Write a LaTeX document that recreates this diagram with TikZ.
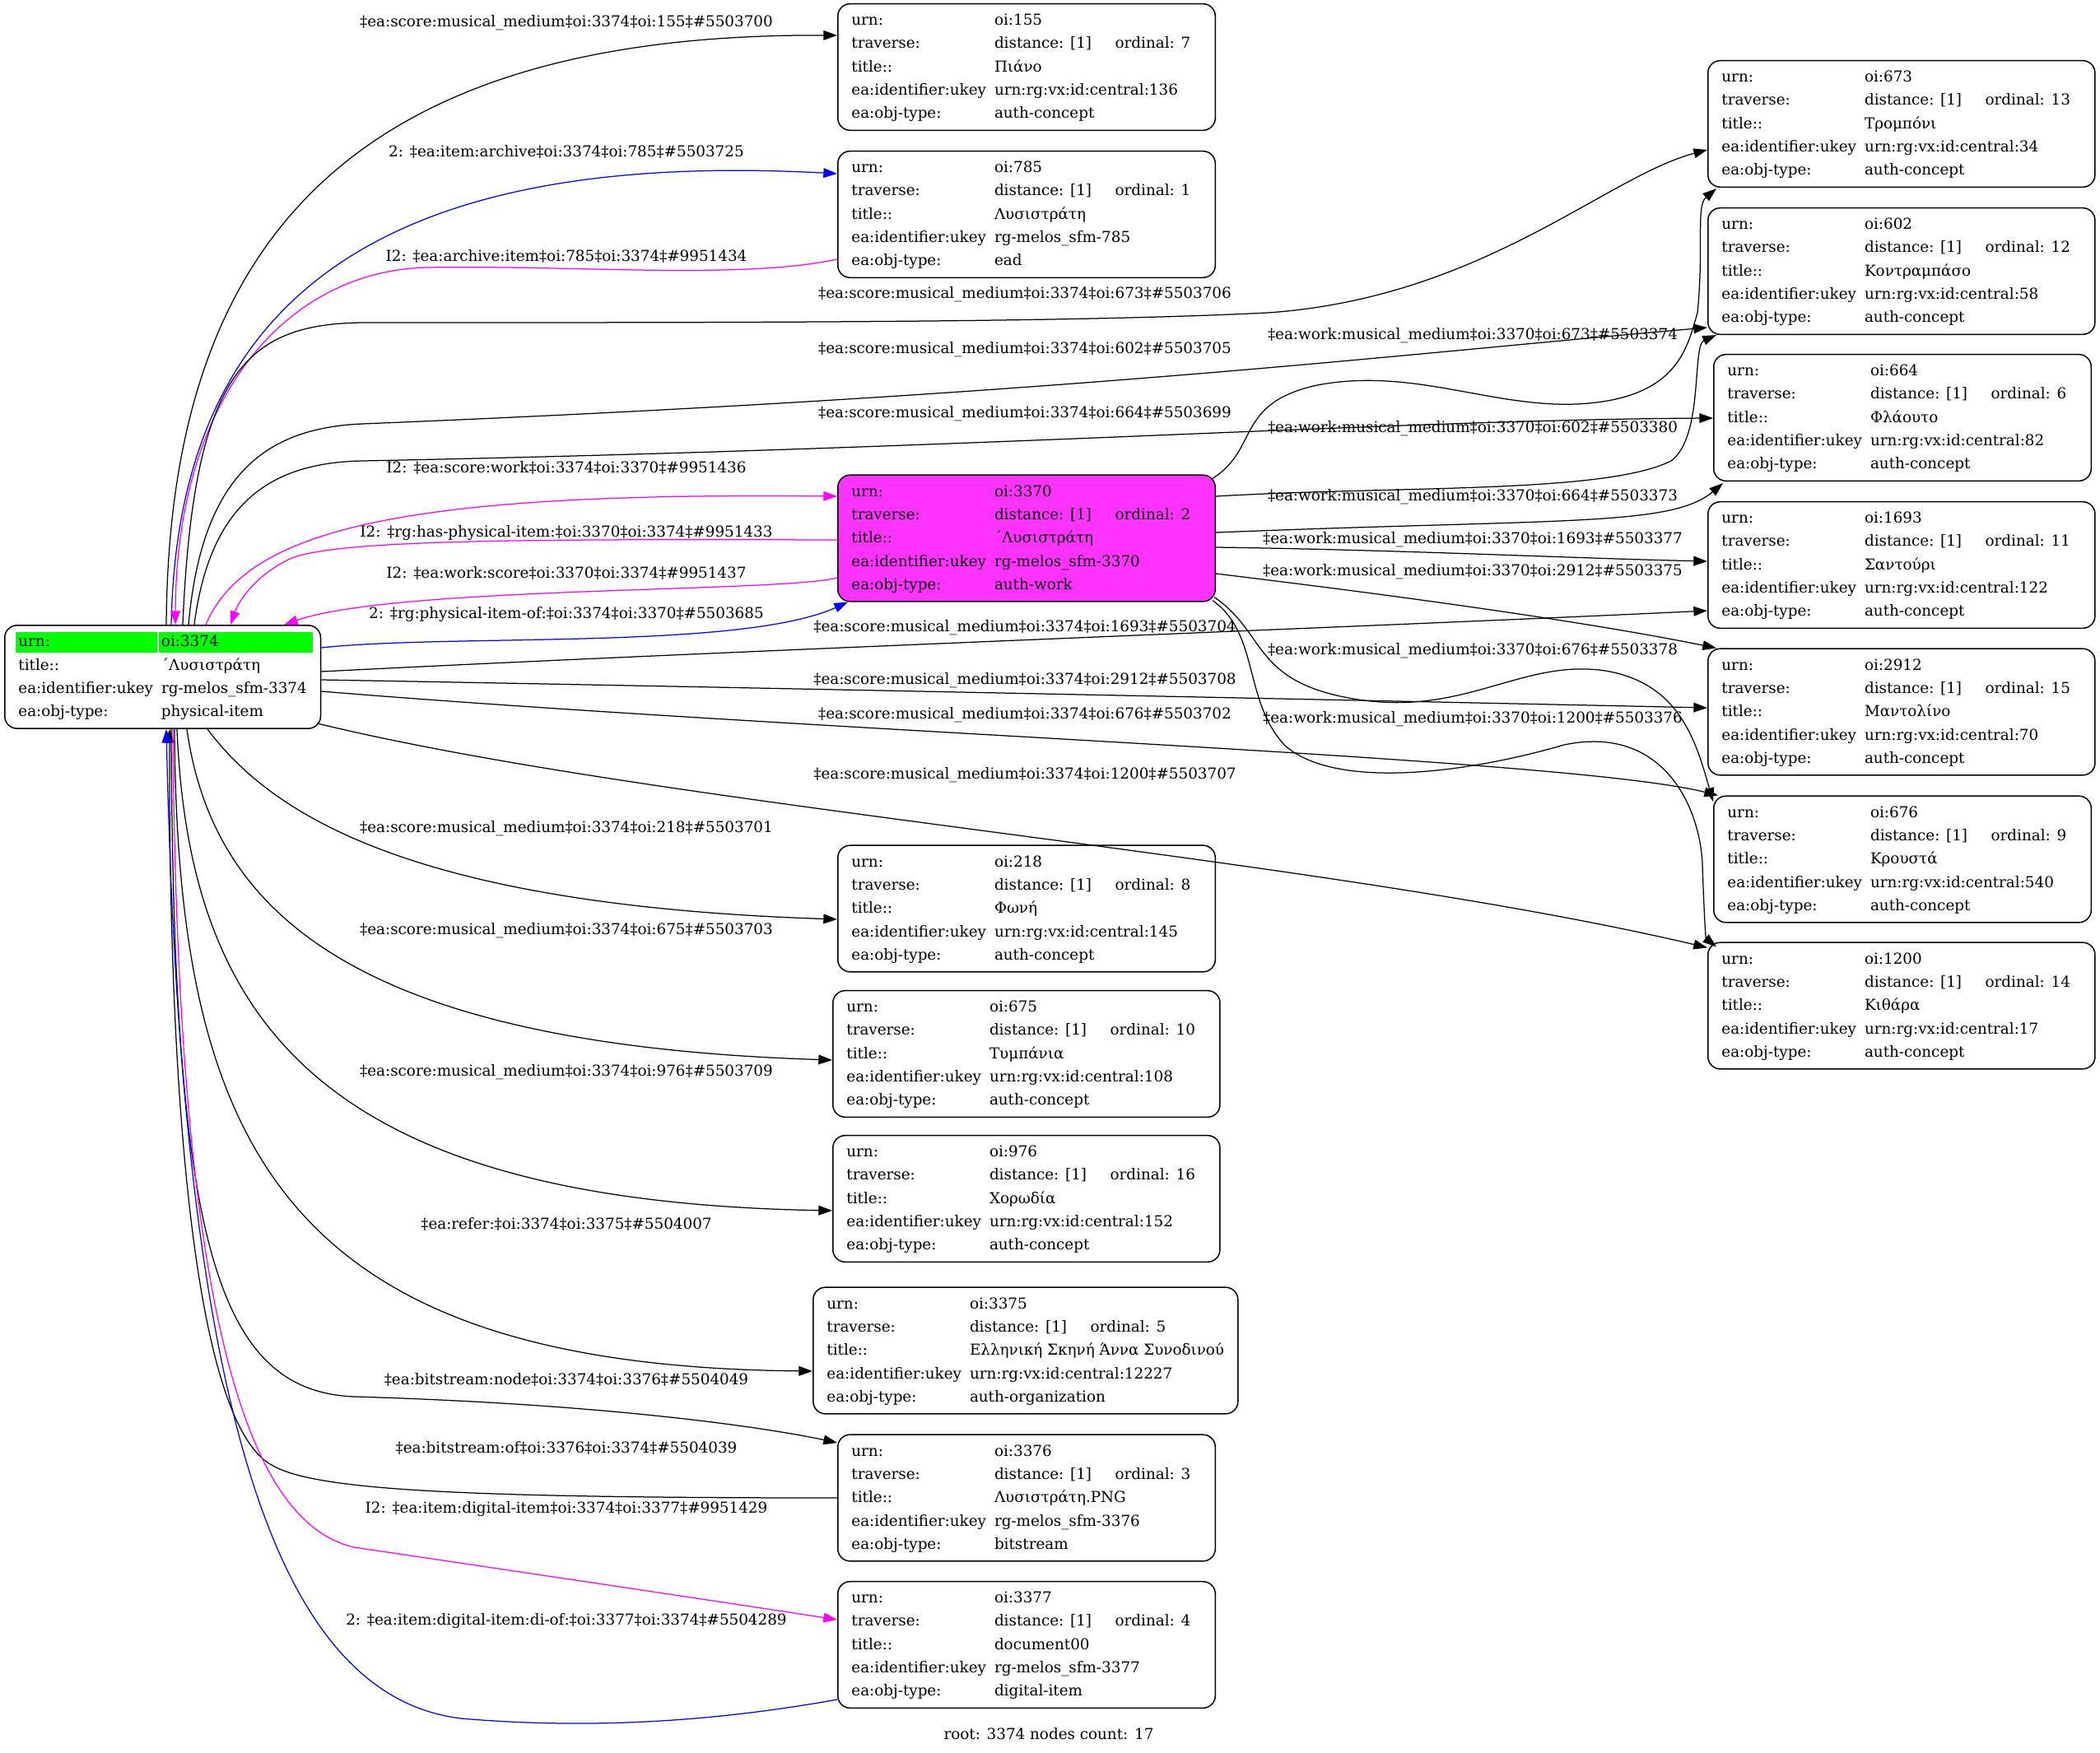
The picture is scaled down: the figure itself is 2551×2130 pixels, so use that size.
\documentclass[tikz,border=0pt]{standalone}
\usepackage{fontspec}
\setmainfont{DejaVu Serif}
\usepackage{xcolor}
\definecolor{linkblue}{RGB}{0, 0, 255}
\definecolor{linkmagenta}{RGB}{255, 0, 255}
\definecolor{rootgreen}{RGB}{0, 255, 0}
\definecolor{workpink}{RGB}{255, 51, 255}
\usepackage{tikz}
\usetikzlibrary{
    arrows.meta,
    calc
}
\tikzstyle{record} = [
    rectangle, draw,
    rounded corners=9pt,
    anchor=west,
    inner xsep=10pt,
    inner ysep=3.6pt,
    line width=0.9pt,
    fill=white
]
\tikzstyle{arrow} = [
    line width=0.75pt,
    -{Triangle[length=10pt,width=7pt]}
]
\newcommand{\rec}[5]{%
    \begin{tabular}{@{}l@{\hspace{6pt}}l@{}}
    urn: & #1\\
    traverse: & \makebox[88pt][l]{distance: [1]}ordinal: #2\kern8pt\\
    title:: & #3\\
    ea:identifier:ukey & #4\\
    ea:obj-type: & #5
    \end{tabular}}
\newcommand{\hlcell}[2]{%
    \rlap{\hspace*{-1.8pt}\setlength{\fboxsep}{0pt}%
    \colorbox{rootgreen}{\rule[-4.2pt]{0pt}{15pt}\makebox[#1][l]{\hspace*{1.8pt}#2}}}%
    \phantom{#2}}

\begin{document}
\begin{tikzpicture}[
    x=0.6pt, y=-0.6pt,
    font=\fontsize{11}{17}\selectfont
]
\fill[white] (0,0) rectangle (2551,2130);

% root and first column
\node (root) [record] at (5,822.5) {%
    \begin{tabular}{@{}l@{\hspace{6pt}}l@{}}
    \hlcell{103pt}{urn:} & \hlcell{112pt}{oi:3374}\\
    title:: & ΄Λυσιστράτη\\
    ea:identifier:ukey & rg-melos\_sfm-3374\\
    ea:obj-type: & physical-item
    \end{tabular}};
\node (n155) [record] at (1017,81.5)
    {\rec{oi:155}{7}{Πιάνο}{urn:rg:vx:id:central:136}{auth-concept}};
\node (n785) [record] at (1017,260.5)
    {\rec{oi:785}{1}{Λυσιστράτη}{rg-melos\_sfm-785}{ead}};
\node (n3370) [record, fill=workpink] at (1017,654)
    {\rec{oi:3370}{2}{΄Λυσιστράτη}{rg-melos\_sfm-3370}{auth-work}};
\node (n218) [record] at (1017,1104)
    {\rec{oi:218}{8}{Φωνή}{urn:rg:vx:id:central:145}{auth-concept}};
\node (n675) [record] at (1011,1280.5)
    {\rec{oi:675}{10}{Τυμπάνια}{urn:rg:vx:id:central:108}{auth-concept}};
\node (n976) [record] at (1011,1456.5)
    {\rec{oi:976}{16}{Χορωδία}{urn:rg:vx:id:central:152}{auth-concept}};
\node (n3375) [record] at (987,1641)
    {\rec{oi:3375}{5}{Ελληνική Σκηνή Άννα Συνοδινού}{urn:rg:vx:id:central:12227}{auth-organization}};
\node (n3376) [record] at (1017,1820)
    {\rec{oi:3376}{3}{Λυσιστράτη.PNG}{rg-melos\_sfm-3376}{bitstream}};
\node (n3377) [record] at (1017,1998.5)
    {\rec{oi:3377}{4}{document00}{rg-melos\_sfm-3377}{digital-item}};

% second column
\node (n673) [record] at (2074,150.5)
    {\rec{oi:673}{13}{Τρομπόνι}{urn:rg:vx:id:central:34}{auth-concept}};
\node (n602) [record] at (2074,329.5)
    {\rec{oi:602}{12}{Κοντραμπάσο}{urn:rg:vx:id:central:58}{auth-concept}};
\node (n664) [record] at (2081,507.5)
    {\rec{oi:664}{6}{Φλάουτο}{urn:rg:vx:id:central:82}{auth-concept}};
\node (n1693) [record] at (2074,686.5)
    {\rec{oi:1693}{11}{Σαντούρι}{urn:rg:vx:id:central:122}{auth-concept}};
\node (n2912) [record] at (2074,865)
    {\rec{oi:2912}{15}{Μαντολίνο}{urn:rg:vx:id:central:70}{auth-concept}};
\node (n676) [record] at (2081,1044)
    {\rec{oi:676}{9}{Κρουστά}{urn:rg:vx:id:central:540}{auth-concept}};
\node (n1200) [record] at (2074,1222)
    {\rec{oi:1200}{14}{Κιθάρα}{urn:rg:vx:id:central:17}{auth-concept}};

% edges out of the top of root
\draw [arrow] ($(root.north west)+(197,0)$) .. controls (205,300) and (420,40) .. ($(n155.west)+(0,-38.5)$);
\draw [arrow, linkblue] ($(root.north west)+(203,0)$) .. controls (215,380) and (440,180) .. ($(n785.west)+(0,-49.5)$);
\draw [arrow, linkmagenta] ($(n785.west)+(0,54.5)$) .. controls (900,340) and (700,322) .. (520,325)
    .. controls (350,328) and (214,480) .. ($(root.north west)+(208,0)$);
\draw [arrow] ($(root.north west)+(217,0)$) .. controls (235,450) and (300,394) .. (440,392)
    .. controls (900,392) and (1300,392) .. (1540,380)
    .. controls (1800,362) and (1950,215) .. ($(n673.west)+(0,31.5)$);
\draw [arrow] ($(root.north west)+(224,0)$) .. controls (245,580) and (320,520) .. (440,515)
    .. controls (1300,480) and (1700,430) .. ($(n602.west)+(0,68.5)$);
\draw [arrow] ($(root.north west)+(231,0)$) .. controls (255,610) and (330,562) .. (440,560)
    .. controls (1200,545) and (1700,510) .. ($(n664.west)+(0,0.5)$);
\draw [arrow, linkmagenta] ($(root.north west)+(245,0)$) .. controls (300,640) and (500,598) .. ($(n3370.west)+(0,-51)$);
\draw [arrow, linkmagenta] ($(n3370.west)+(0,2)$) .. controls (650,655) and (400,655) .. (350,680)
    .. controls (310,700) and (290,730) .. ($(root.north west)+(275,0)$);
\draw [arrow, linkmagenta] ($(n3370.west)+(0,48)$) .. controls (950,720) and (480,712) .. ($(root.north west)+(340,0)$);

% edges out of the right side of root
\draw [arrow, linkblue] ($(root.east)+(0,-35.5)$) .. controls (550,770) and (900,790) .. ($(n3370.south west)+(13,0)$);
\draw [arrow] ($(root.east)+(0,-6.5)$) .. controls (900,790) and (1700,760) .. ($(n1693.west)+(0,55.5)$);
\draw [arrow] ($(root.east)+(0,3.5)$) .. controls (900,835) and (1700,852) .. ($(n2912.west)+(0,-5)$);
\draw [arrow] ($(root.east)+(0,17.5)$) .. controls (1000,890) and (1900,920) .. ($(n676.north west)+(6,0)$);
\draw [arrow] ($(root.south east)+(-5,-7)$) .. controls (800,980) and (1600,1040) .. ($(n1200.north west)+(0,7)$);

% edges out of the bottom of root
\draw [arrow] ($(root.south west)+(247,0)$) .. controls (330,990) and (500,1100) .. ($(n218.west)+(0,13)$);
\draw [arrow] ($(root.south west)+(222,0)$) .. controls (260,1120) and (450,1270) .. ($(n675.west)+(0,7.5)$);
\draw [arrow] ($(root.south west)+(210,0)$) .. controls (230,1250) and (400,1460) .. ($(n976.west)+(0,14.5)$);
\draw [arrow] ($(root.south west)+(207,0)$) .. controls (215,1400) and (350,1660) .. ($(n3375.west)+(0,25)$);
\draw [arrow] ($(root.south west)+(203,0)$) .. controls (210,1500) and (260,1690) .. (430,1697)
    .. controls (800,1708) and (980,1745) .. ($(n3376.west)+(0,-67)$);
\draw [arrow] (n3376.west) .. controls (550,1820) and (380,1810) .. (330,1780)
    .. controls (220,1720) and (205,1200) .. ($(root.south west)+(201,0)$);
\draw [arrow, linkmagenta] ($(root.south west)+(205,0)$) .. controls (215,1600) and (300,1850) .. (430,1880)
    .. controls (700,1920) and (900,1950) .. ($(n3377.west)+(0,-30.5)$);
\draw [arrow, linkblue] ($(n3377.west)+(0,66.5)$) .. controls (850,2095) and (700,2100) .. (560,2088)
    .. controls (330,2060) and (220,1700) .. ($(root.south west)+(197,0)$);

% edges out of 3370
\draw [arrow] ($(n3370.north east)+(-4,5)$) .. controls (1530,545) and (1500,490) .. (1600,468)
    .. controls (1720,445) and (1820,500) .. (1930,490)
    .. controls (2040,480) and (2050,420) .. (2062,380)
    .. controls (2070,300) and (2060,250) .. ($(n673.south west)+(11,1)$);
\draw [arrow] ($(n3370.east)+(0,-51)$) .. controls (1700,590) and (1950,600) .. (2030,560)
    .. controls (2070,530) and (2055,420) .. ($(n602.south west)+(11,0)$);
\draw [arrow] ($(n3370.east)+(0,-7)$) .. controls (1900,630) and (2030,640) .. ($(n664.south west)+(12,2)$);
\draw [arrow] ($(n3370.east)+(0,11)$) .. controls (1700,668) and (1900,678) .. ($(n1693.west)+(0,-4.5)$);
\draw [arrow] ($(n3370.east)+(0,43)$) .. controls (1750,730) and (1950,760) .. ($(n2912.north west)+(11,0)$);
\draw [arrow] ($(n3370.south east)+(-2,-6)$) .. controls (1540,770) and (1520,830) .. (1650,850)
    .. controls (1780,870) and (1850,800) .. (1950,815)
    .. controls (2040,830) and (2060,900) .. ($(n676.west)+(0,-70)$);
\draw [arrow] ($(n3370.south east)+(-4,-2)$) .. controls (1530,770) and (1510,850) .. (1560,905)
    .. controls (1620,960) and (1780,940) .. (1900,905)
    .. controls (2020,880) and (2065,980) .. (2068,1050)
    .. controls (2070,1110) and (2072,1140) .. ($(n1200.north west)+(11,6)$);

% edge labels
\node (la) at (688,28) {‡ea:score:musical\_medium‡oi:3374‡oi:155‡\#5503700};
\node (lb) at (688,184) {2: ‡ea:item:archive‡oi:3374‡oi:785‡\#5503725};
\node (lc) at (688,311) {I2: ‡ea:archive:item‡oi:785‡oi:3374‡\#9951434};
\node (ld) at (1245,358) {‡ea:score:musical\_medium‡oi:3374‡oi:673‡\#5503706};
\node (le) at (1245,425) {‡ea:score:musical\_medium‡oi:3374‡oi:602‡\#5503705};
\node (lf) at (1245,503) {‡ea:score:musical\_medium‡oi:3374‡oi:664‡\#5503699};
\node (lg) at (688,568) {I2: ‡ea:score:work‡oi:3374‡oi:3370‡\#9951436};
\node (lh) at (688,648) {I2: ‡rg:has-physical-item:‡oi:3370‡oi:3374‡\#9951433};
\node (li) at (688,696) {I2: ‡ea:work:score‡oi:3370‡oi:3374‡\#9951437};
\node (lj) at (688,747) {2: ‡rg:physical-item-of:‡oi:3374‡oi:3370‡\#5503685};
\node (lk) at (1245,763) {‡ea:score:musical\_medium‡oi:3374‡oi:1693‡\#5503704};
\node (ll) at (1245,827) {‡ea:score:musical\_medium‡oi:3374‡oi:2912‡\#5503708};
\node (lm) at (1245,869) {‡ea:score:musical\_medium‡oi:3374‡oi:676‡\#5503702};
\node (ln) at (1245,942) {‡ea:score:musical\_medium‡oi:3374‡oi:1200‡\#5503707};
\node (lo) at (688,1007) {‡ea:score:musical\_medium‡oi:3374‡oi:218‡\#5503701};
\node (lp) at (688,1131) {‡ea:score:musical\_medium‡oi:3374‡oi:675‡\#5503703};
\node (lq) at (688,1303) {‡ea:score:musical\_medium‡oi:3374‡oi:976‡\#5503709};
\node (lr) at (688,1487) {‡ea:refer:‡oi:3374‡oi:3375‡\#5504007};
\node (ls) at (688,1676) {‡ea:bitstream:node‡oi:3374‡oi:3376‡\#5504049};
\node (lt) at (688,1759) {‡ea:bitstream:of‡oi:3376‡oi:3374‡\#5504039};
\node (lu) at (688,1834) {I2: ‡ea:item:digital-item‡oi:3374‡oi:3377‡\#9951429};
\node (lv) at (688,1970) {2: ‡ea:item:digital-item:di-of:‡oi:3377‡oi:3374‡\#5504289};
\node (w673) at (1789,408) {‡ea:work:musical\_medium‡oi:3370‡oi:673‡\#5503374};
\node (w602) at (1789,521) {‡ea:work:musical\_medium‡oi:3370‡oi:602‡\#5503380};
\node (w664) at (1789,604) {‡ea:work:musical\_medium‡oi:3370‡oi:664‡\#5503373};
\node (w1693) at (1789,656) {‡ea:work:musical\_medium‡oi:3370‡oi:1693‡\#5503377};
\node (w2912) at (1789,695) {‡ea:work:musical\_medium‡oi:3370‡oi:2912‡\#5503375};
\node (w676) at (1789,791) {‡ea:work:musical\_medium‡oi:3370‡oi:676‡\#5503378};
\node (w1200) at (1789,874) {‡ea:work:musical\_medium‡oi:3370‡oi:1200‡\#5503376};

\node (footer) at (1274,2107) {root: 3374 nodes count: 17};
\end{tikzpicture}
\end{document}
